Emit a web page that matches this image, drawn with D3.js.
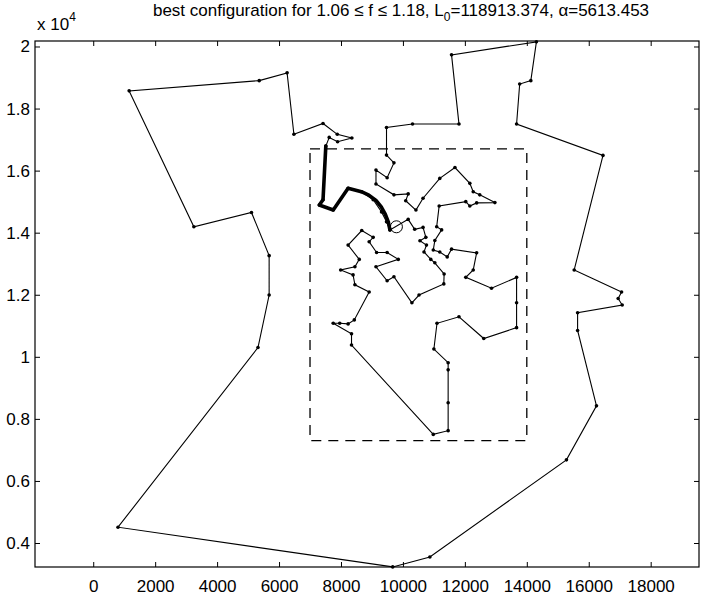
<!DOCTYPE html>
<html>
<head>
<meta charset="utf-8">
<script src="https://cdn.jsdelivr.net/npm/d3@7"></script>
<style>
  body { margin: 0; background: #fff; }
  svg text { font-family: "Liberation Sans", Arial, Helvetica, sans-serif; fill: #000; }
  .tour { fill: none; stroke: #000; stroke-width: 1.1; }
  .best { fill: none; stroke: #000; stroke-width: 3.6; stroke-linejoin: round; stroke-linecap: round; }
  .dot { fill: #000; }
  .box { fill: none; stroke: #000; stroke-width: 1.3; stroke-dasharray: 10 7; }
  .frame { fill: none; stroke: #000; stroke-width: 1.2; }
  .tick line { stroke: #000; }
</style>
</head>
<body>
<div id="chart"></div>
<script>
// tour through the cities, in visiting order (closed loop)
var tour = [
    [7510,16790],[7420,15060],[7300,14890],[7750,14730],[8230,15430],[8660,15320],
    [9040,15060],[9310,14670],[9470,14350],[9580,14090],
    [10170,14430],[10380,14110],[10650,14170],[10740,13850],[10550,13740],[10760,13600],
    [10680,13380],[10900,13140],[11030,13030],[11330,12670],[11320,12350],[10520,11990],
    [10290,11740],[9710,12580],[9490,12450],[9130,12900],[9850,13140],[9490,13360],
    [9150,13360],[8910,13710],[9040,13850],[8670,14070],[8230,13600],[8590,13140],
    [8450,12900],[7990,12800],[8390,12640],[8450,12320],[8910,12090],[8430,11190],
    [8230,11060],[7960,11080],[7750,11080],[8340,10740],[8340,10380],[10980,7500],
    [11460,7620],[11460,8520],[11460,9580],[11460,9810],[11000,10250],[11100,11080],
    [11810,11290],[12610,10590],[13670,10940],[13670,11740],[13670,12560],[12860,12210],
    [12030,12560],[12270,12800],[12380,13350],[11570,13470],[11430,13220],[11190,13380],
    [10980,13440],[11030,13750],[11250,14090],[11090,14190],[11170,14860],[12030,15000],
    [12160,14860],[12380,14960],[12970,14970],[12480,15220],[12270,15320],[12160,15590],
    [11680,16100],[11190,15750],[10650,15110],[10420,14730],[10090,15030],[10170,15250],
    [9710,15220],[9130,15570],[9130,16020],[9490,15770],[9710,16250],[9470,16500],
    [9470,17390],[10310,17500],[11810,17500],[11570,19730],[14310,20150],[14130,18900],
    [13770,18790],[13670,17500],[16460,16490],[15530,12800],[17060,12090],[16950,11880],
    [17080,11670],[15640,11420],[15640,10850],[16250,8420],[15280,6680],[10870,3550],
    [9670,3230],[800,4510],[5320,10300],[5680,11990],[5680,13260],[5110,14650],
    [3250,14190],[1160,18570],[5360,18900],[6260,19150],[6480,17170],[7420,17520],
    [7880,17170],[8350,17050],[7890,16930],[7620,17070]
];

// highlighted best sub-path (drawn thick), ends in a bend
var bestPath = [
    [7510,16790],[7420,15060],[7300,14890],[7750,14730],[8230,15430],[8660,15320],
    [8900,15210],[9130,15040],[9300,14830],[9430,14600],[9530,14340],[9580,14090]
];

var marker = [9790, 14190];           // circled city
var boxX = [7000, 14000];             // dashed region
var boxY = [7300, 16700];

var xTicks = [0,2000,4000,6000,8000,10000,12000,14000,16000,18000];
var yTicks = [4000,6000,8000,10000,12000,14000,16000,18000,20000];
var yTickLabels = ["0.4","0.6","0.8","1","1.2","1.4","1.6","1.8","2"];

var W = 701, H = 599;
var margin = {top: 41, right: 2, bottom: 32, left: 35};
var xDomain = [-1880, 19560];
var yDomain = [3227, 20177];

var svg = d3.select("#chart").append("svg")
    .attr("width", W)
    .attr("height", H);

var x = d3.scaleLinear().domain(xDomain).range([margin.left, W - margin.right]);
var y = d3.scaleLinear().domain(yDomain).range([H - margin.bottom, margin.top]);

var line = d3.line().x(function(d){ return x(d[0]); }).y(function(d){ return y(d[1]); });

// axes, MATLAB style: ticks point inward, on all four sides
svg.append("g")
    .attr("transform", "translate(0," + y.range()[0] + ")")
    .call(d3.axisBottom(x).tickValues(xTicks).tickFormat(d3.format("d")).tickSizeInner(-5).tickSizeOuter(0).tickPadding(13))
    .call(function(g){ g.select(".domain").remove(); })
    .selectAll("text").style("font-size", "17px");

svg.append("g")
    .attr("transform", "translate(0," + y.range()[1] + ")")
    .call(d3.axisTop(x).tickValues(xTicks).tickFormat("").tickSizeInner(-5).tickSizeOuter(0))
    .call(function(g){ g.select(".domain").remove(); });

svg.append("g")
    .attr("transform", "translate(" + x.range()[0] + ",0)")
    .call(d3.axisLeft(y).tickValues(yTicks).tickFormat(function(d, i){ return yTickLabels[i]; })
        .tickSizeInner(-5).tickSizeOuter(0).tickPadding(5))
    .call(function(g){ g.select(".domain").remove(); })
    .selectAll("text").style("font-size", "17px");

svg.append("g")
    .attr("transform", "translate(" + x.range()[1] + ",0)")
    .call(d3.axisRight(y).tickValues(yTicks).tickFormat("").tickSizeInner(-5).tickSizeOuter(0))
    .call(function(g){ g.select(".domain").remove(); });

svg.append("rect")
    .attr("class", "frame")
    .attr("x", x.range()[0])
    .attr("y", y.range()[1])
    .attr("width", x.range()[1] - x.range()[0])
    .attr("height", y.range()[0] - y.range()[1]);

// exponent label
var expo = svg.append("text")
    .attr("x", 37)
    .attr("y", 30)
    .style("font-size", "17px");
expo.append("tspan").text("x 10");
expo.append("tspan").attr("dy", -9).style("font-size", "12px").text("4");

// title
var title = svg.append("text")
    .attr("x", 401)
    .attr("y", 16)
    .attr("text-anchor", "middle")
    .style("font-size", "17px");
title.append("tspan").text("best configuration for 1.06 \u2264 f \u2264 1.18, L");
title.append("tspan").attr("dy", 5).style("font-size", "12px").text("0");
title.append("tspan").attr("dy", -5).text("=118913.374, \u03b1=5613.453");

// dashed region
svg.append("rect")
    .attr("class", "box")
    .attr("x", x(boxX[0]))
    .attr("y", y(boxY[1]))
    .attr("width", x(boxX[1]) - x(boxX[0]))
    .attr("height", y(boxY[0]) - y(boxY[1]));

// tour
svg.append("path")
    .attr("class", "tour")
    .attr("d", line(tour.concat([tour[0]])));

svg.selectAll(".dot").data(tour)
    .enter().append("circle")
    .attr("class", "dot")
    .attr("cx", function(d){ return x(d[0]); })
    .attr("cy", function(d){ return y(d[1]); })
    .attr("r", 1.8);

// best sub-path
svg.append("path")
    .attr("class", "best")
    .attr("d", line(bestPath));

svg.append("circle")
    .attr("cx", x(marker[0]))
    .attr("cy", y(marker[1]))
    .attr("r", 6)
    .attr("fill", "none")
    .attr("stroke", "#000")
    .attr("stroke-width", 1);
</script>
</body>
</html>
